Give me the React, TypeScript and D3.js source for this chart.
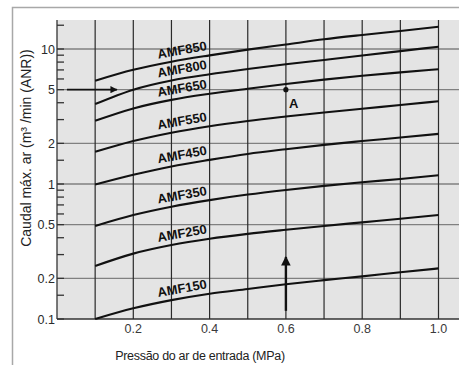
import React, { useEffect, useRef } from 'react';
import * as d3 from 'd3';

// pressure points (MPa) at which the curves were read
const pressures = [0.1, 0.2, 0.3, 0.4, 0.5, 0.6, 0.7, 0.8, 0.9, 1.0];

const amf850 = [5.82, 7.01, 8.05, 8.97, 9.89, 10.8, 11.8, 12.7, 13.6, 14.6];
const amf800 = [3.91, 5.0, 5.85, 6.5, 7.1, 7.7, 8.3, 8.95, 9.65, 10.4];
const amf650 = [2.94, 3.63, 4.2, 4.66, 5.08, 5.51, 5.93, 6.34, 6.71, 7.08];
const amf550 = [1.73, 2.08, 2.4, 2.68, 2.93, 3.16, 3.39, 3.61, 3.85, 4.1];
const amf450 = [0.99, 1.17, 1.35, 1.51, 1.67, 1.81, 1.95, 2.08, 2.21, 2.35];
const amf350 = [0.489, 0.589, 0.679, 0.76, 0.835, 0.903, 0.968, 1.03, 1.09, 1.16];
const amf250 = [0.247, 0.305, 0.353, 0.393, 0.427, 0.458, 0.489, 0.52, 0.553, 0.589];
const amf150 = [0.1, 0.12, 0.138, 0.154, 0.167, 0.181, 0.194, 0.207, 0.222, 0.237];

const seriesNames = ['AMF850', 'AMF800', 'AMF650', 'AMF550', 'AMF450', 'AMF350', 'AMF250', 'AMF150'];
const seriesValues = [amf850, amf800, amf650, amf550, amf450, amf350, amf250, amf150];

const xTickLabels = [0.2, 0.4, 0.6, 0.8, 1.0];
const xGridValues = [0.1, 0.2, 0.3, 0.4, 0.5, 0.6, 0.7, 0.8, 0.9, 1.0];
const yMajorTicks = [0.1, 0.2, 0.5, 1, 2, 5, 10];
const yMinorTicks = [0.15, 0.3, 0.4, 0.6, 0.7, 0.8, 0.9, 1.5, 3, 4, 6, 7, 8, 9, 15];

// operating point A and the reading arrows
const pointA = { p: 0.6, q: 5 };
const flowArrow = { from: 0.026, to: 0.157, q: 5 };
const pressureArrow = { p: 0.6, from: 0.115, to: 0.288 };

const App = () => {
  const svgRef = useRef<SVGSVGElement>(null);

  useEffect(() => {
    document.body.style.margin = '0';
    const svg = d3.select(svgRef.current);
    svg.selectAll('*').remove();

    const W = 459;
    const H = 365;
    const margin = { top: 20, left: 57, bottom: 319 };

    const x = d3.scaleLinear().domain([0, 1]).range([margin.left, margin.left + 381.5]);
    const y = d3.scaleLog().domain([0.1, 16.4]).range([margin.bottom, margin.top]);

    const font = 'Liberation Sans, Arial, Helvetica, sans-serif';

    // outer frame
    svg.append('rect').attr('width', W).attr('height', H).attr('fill', '#ffffff');
    svg.append('path')
      .attr('d', `M12.5,${H} V7.5 H${W}`)
      .attr('fill', 'none')
      .attr('stroke', '#a8a8a8')
      .attr('stroke-width', 1.5);

    // plot background
    svg.append('rect')
      .attr('x', margin.left)
      .attr('y', margin.top)
      .attr('width', W - margin.left)
      .attr('height', margin.bottom - margin.top)
      .attr('fill', '#e4e4e4');

    // horizontal grid lines at labelled values
    svg.append('g')
      .selectAll('line')
      .data(yMajorTicks)
      .enter()
      .append('line')
      .attr('x1', margin.left)
      .attr('x2', W)
      .attr('y1', d => y(d))
      .attr('y2', d => y(d))
      .attr('stroke', d => (d === 0.1 ? '#333' : '#808080'))
      .attr('stroke-width', 1.4);

    // vertical grid lines
    svg.append('g')
      .selectAll('line')
      .data(xGridValues)
      .enter()
      .append('line')
      .attr('x1', d => x(d))
      .attr('x2', d => x(d))
      .attr('y1', margin.top)
      .attr('y2', margin.bottom)
      .attr('stroke', '#2a2a2a')
      .attr('stroke-width', 1.2);

    // y axis line and ticks
    svg.append('line')
      .attr('x1', margin.left)
      .attr('x2', margin.left)
      .attr('y1', margin.top)
      .attr('y2', margin.bottom)
      .attr('stroke', '#333')
      .attr('stroke-width', 1.3);

    svg.append('g')
      .selectAll('line')
      .data(yMinorTicks.concat(yMajorTicks))
      .enter()
      .append('line')
      .attr('x1', margin.left)
      .attr('x2', margin.left + 7)
      .attr('y1', d => y(d))
      .attr('y2', d => y(d))
      .attr('stroke', '#333')
      .attr('stroke-width', 1.3);

    svg.append('g')
      .selectAll('text')
      .data(yMajorTicks)
      .enter()
      .append('text')
      .attr('x', margin.left - 2)
      .attr('y', d => y(d) + 4.5)
      .attr('text-anchor', 'end')
      .style('font-family', font)
      .style('font-size', '12.5px')
      .style('fill', '#2a2a2a')
      .text(d => String(d));

    // x tick labels
    svg.append('g')
      .selectAll('text')
      .data(xTickLabels)
      .enter()
      .append('text')
      .attr('x', d => x(d))
      .attr('y', margin.bottom + 14)
      .attr('text-anchor', 'middle')
      .style('font-family', font)
      .style('font-size', '12.5px')
      .style('fill', '#3a3a3a')
      .text(d => d.toFixed(1));

    // curves
    const line = d3.line<number>()
      .x((d, i) => x(pressures[i]))
      .y(d => y(d))
      .curve(d3.curveMonotoneX);

    svg.append('g')
      .selectAll('path')
      .data(seriesValues)
      .enter()
      .append('path')
      .attr('d', d => line(d))
      .attr('fill', 'none')
      .attr('stroke', '#111')
      .attr('stroke-width', 2.1);

    // curve labels, sitting just above each curve a third of the way in
    svg.append('g')
      .selectAll('text')
      .data(seriesValues)
      .enter()
      .append('text')
      .attr('transform', d => {
        const t = 0.3;
        const cx = x(pressures[2]) + (x(pressures[3]) - x(pressures[2])) * t;
        const cy = y(d[2]) + (y(d[3]) - y(d[2])) * t - 5.5;
        return `translate(${cx},${cy}) rotate(-10)`;
      })
      .attr('text-anchor', 'middle')
      .style('font-family', font)
      .style('font-size', '13px')
      .style('font-weight', 'bold')
      .style('fill', '#111')
      .text((d, i) => seriesNames[i]);

    // arrow markers
    const defs = svg.append('defs');
    defs.append('marker')
      .attr('id', 'arrowHead')
      .attr('viewBox', '0 0 10 10')
      .attr('refX', 9)
      .attr('refY', 5)
      .attr('markerWidth', 4)
      .attr('markerHeight', 4)
      .attr('markerUnits', 'strokeWidth')
      .attr('orient', 'auto')
      .append('path')
      .attr('d', 'M0,0 L10,5 L0,10 Z')
      .attr('fill', '#111');

    svg.append('line')
      .attr('x1', x(flowArrow.from))
      .attr('x2', x(flowArrow.to))
      .attr('y1', y(flowArrow.q))
      .attr('y2', y(flowArrow.q))
      .attr('stroke', '#111')
      .attr('stroke-width', 1.8)
      .attr('marker-end', 'url(#arrowHead)');

    svg.append('line')
      .attr('x1', x(pressureArrow.p))
      .attr('x2', x(pressureArrow.p))
      .attr('y1', y(pressureArrow.from))
      .attr('y2', y(pressureArrow.to))
      .attr('stroke', '#111')
      .attr('stroke-width', 2.4)
      .attr('marker-end', 'url(#arrowHead)');

    // point A
    svg.append('circle')
      .attr('cx', x(pointA.p))
      .attr('cy', y(pointA.q))
      .attr('r', 2.6)
      .attr('fill', '#111');

    svg.append('text')
      .attr('x', x(pointA.p) + 3)
      .attr('y', y(pointA.q) + 18)
      .style('font-family', font)
      .style('font-size', '13px')
      .style('font-weight', 'bold')
      .style('fill', '#111')
      .text('A');

    // axis titles
    svg.append('text')
      .attr('x', 200)
      .attr('y', 360)
      .attr('text-anchor', 'middle')
      .style('font-family', font)
      .style('font-size', '12.5px')
      .style('letter-spacing', '-0.3px')
      .style('fill', '#222')
      .text('Pressão do ar de entrada (MPa)');

    svg.append('text')
      .attr('transform', 'translate(31,148) rotate(-90)')
      .attr('text-anchor', 'middle')
      .style('font-family', font)
      .style('font-size', '14px')
      .style('fill', '#222')
      .text('Caudal máx. ar (m³ /min (ANR))');
  }, []);

  return (
    <svg
      ref={svgRef}
      width={459}
      height={365}
      style={{ position: 'absolute', left: 0, top: 0, display: 'block' }}
    />
  );
};

export default App;
